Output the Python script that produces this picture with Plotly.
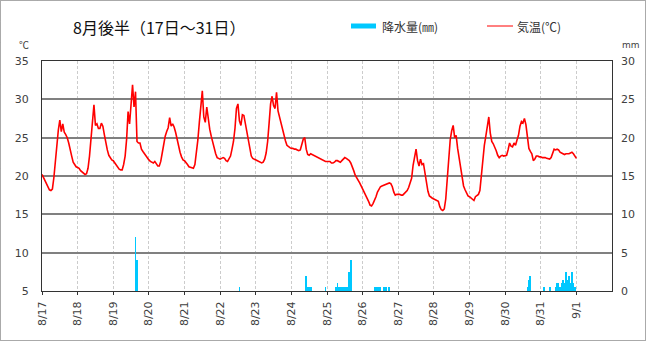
import pandas as pd
import plotly.graph_objects as go

# Hourly air temperature (°C), one list per day, 00:00 .. 23:00
t_0817 = [20.2, 19.8, 19.4, 18.9, 18.4, 18.2, 18.1, 18.3, 19.8, 22.2, 24.4, 26.0, 27.3, 25.8, 26.8, 25.7, 25.4, 25.0, 24.3, 23.6, 22.6, 21.8, 21.4, 21.2]
t_0818 = [21.1, 21.0, 20.7, 20.5, 20.3, 20.2, 20.3, 21.0, 22.6, 24.8, 27.3, 29.3, 26.6, 26.8, 26.2, 26.2, 26.9, 26.5, 25.4, 24.3, 23.4, 22.7, 22.3, 22.1]
t_0819 = [22.0, 21.7, 21.4, 21.1, 20.9, 20.8, 20.8, 21.5, 22.6, 24.8, 28.4, 26.8, 29.9, 31.9, 29.0, 31.0, 24.5, 24.3, 24.3, 23.5, 23.2, 22.9, 22.7, 22.3]
t_0820 = [22.1, 21.9, 21.8, 21.7, 21.9, 21.6, 21.3, 21.3, 21.9, 23.0, 24.2, 25.2, 25.8, 26.3, 27.6, 26.5, 26.8, 26.4, 25.7, 24.7, 23.9, 23.1, 22.5, 22.1]
t_0821 = [22.0, 21.8, 21.5, 21.2, 21.1, 21.1, 21.0, 21.5, 22.8, 24.7, 27.0, 29.2, 31.1, 27.7, 27.0, 29.0, 27.4, 26.1, 25.2, 24.3, 23.6, 22.9, 22.4, 22.3]
t_0822 = [22.2, 22.3, 22.4, 22.3, 22.0, 21.9, 22.2, 22.6, 23.5, 24.5, 26.2, 28.8, 29.4, 27.2, 26.6, 28.0, 27.9, 26.8, 25.5, 24.4, 23.4, 22.6, 22.3, 22.2]
t_0823 = [22.1, 22.0, 21.8, 21.7, 21.7, 21.8, 22.2, 23.0, 24.5, 26.9, 29.4, 30.4, 29.2, 28.8, 30.9, 28.5, 27.7, 26.8, 25.9, 25.1, 24.6, 24.0, 23.8, 23.7]
t_0824 = [23.6, 23.6, 23.5, 23.5, 23.4, 23.3, 23.4, 24.3, 24.8, 25.0, 23.5, 22.8, 22.7, 22.9, 22.8, 22.7, 22.5, 22.5, 22.4, 22.3, 22.1, 22.1, 22.0, 21.9]
t_0825 = [21.9, 21.9, 21.9, 21.7, 21.7, 21.8, 22.0, 22.0, 21.9, 21.8, 22.0, 22.2, 22.4, 22.3, 22.2, 22.0, 21.7, 21.3, 20.7, 20.1, 19.8, 19.4, 19.1, 18.7]
t_0826 = [18.3, 18.0, 17.7, 17.3, 16.7, 16.2, 16.1, 16.4, 16.8, 17.3, 17.9, 18.3, 18.6, 18.7, 18.8, 18.9, 19.0, 19.1, 19.1, 19.0, 18.6, 17.9, 17.5, 17.6]
t_0827 = [17.6, 17.6, 17.5, 17.5, 17.7, 17.9, 18.1, 18.5, 19.0, 19.7, 21.4, 22.3, 23.5, 22.0, 21.3, 22.2, 21.5, 21.6, 20.2, 18.9, 18.0, 17.4, 17.2, 17.1]
t_0828 = [17.0, 16.9, 16.9, 16.7, 16.0, 15.6, 15.5, 15.7, 17.0, 19.8, 22.3, 24.7, 25.9, 26.6, 25.0, 25.3, 23.6, 22.5, 21.2, 19.8, 18.7, 18.2, 17.8, 17.4]
t_0829 = [17.3, 17.1, 16.9, 16.8, 17.3, 17.4, 17.6, 18.1, 20.2, 22.7, 24.0, 25.2, 26.5, 27.7, 25.6, 24.5, 24.2, 23.8, 23.3, 22.7, 22.4, 22.6, 22.7, 22.6]
t_0830 = [22.7, 22.7, 23.4, 24.3, 23.9, 23.8, 24.3, 24.0, 24.7, 25.3, 26.5, 27.1, 26.9, 27.5, 26.7, 24.9, 23.6, 23.2, 22.9, 22.0, 22.2, 22.6, 22.6, 22.5]
t_0831 = [22.5, 22.4, 22.4, 22.4, 22.3, 22.2, 22.2, 22.4, 22.9, 23.5, 23.4, 23.5, 23.4, 23.1, 23.0, 22.9, 22.8, 22.9, 22.9, 22.9, 23.0, 23.1, 22.9, 22.5]
t_0901 = [22.3]

temperature = (t_0817 + t_0818 + t_0819 + t_0820 + t_0821 + t_0822 + t_0823 + t_0824
               + t_0825 + t_0826 + t_0827 + t_0828 + t_0829 + t_0830 + t_0831 + t_0901)
temp_times = pd.date_range("2024-08-17 00:00", periods=len(temperature), freq="h")

# Hourly precipitation (mm), only hours with rain
rain_time = [
    "2024-08-19 15:00", "2024-08-19 16:00",
    "2024-08-22 13:00",
    "2024-08-24 10:00", "2024-08-24 11:00", "2024-08-24 12:00", "2024-08-24 13:00",
    "2024-08-24 23:00",
    "2024-08-25 06:00", "2024-08-25 07:00", "2024-08-25 08:00", "2024-08-25 09:00",
    "2024-08-25 10:00", "2024-08-25 11:00", "2024-08-25 12:00", "2024-08-25 13:00",
    "2024-08-25 14:00", "2024-08-25 15:00", "2024-08-25 16:00",
    "2024-08-26 08:00", "2024-08-26 09:00", "2024-08-26 10:00", "2024-08-26 11:00",
    "2024-08-26 12:00", "2024-08-26 14:00", "2024-08-26 15:00", "2024-08-26 16:00",
    "2024-08-26 18:00",
    "2024-08-30 15:00", "2024-08-30 16:00", "2024-08-30 17:00",
    "2024-08-31 02:00", "2024-08-31 06:00",
    "2024-08-31 10:00", "2024-08-31 11:00", "2024-08-31 12:00", "2024-08-31 13:00",
    "2024-08-31 14:00", "2024-08-31 15:00", "2024-08-31 16:00", "2024-08-31 17:00",
    "2024-08-31 18:00", "2024-08-31 19:00", "2024-08-31 20:00", "2024-08-31 21:00",
    "2024-08-31 22:00", "2024-08-31 23:00",
]
rain_mm = [
    7.0, 4.0,
    0.5,
    2.0, 0.5, 0.5, 0.5,
    0.5,
    0.5, 1.0, 0.5, 0.5,
    0.5, 0.5, 0.5, 0.5,
    0.5, 2.5, 4.0,
    0.5, 0.5, 0.5, 0.5,
    0.5, 0.5, 0.5, 0.5,
    0.5,
    0.5, 1.5, 2.0,
    0.5, 0.5,
    0.5, 1.0, 1.0, 0.5,
    1.0, 1.5, 1.0, 2.5,
    1.5, 2.0, 1.0, 2.5,
    1.0, 0.5,
]

# Axis ticks
day_ticks = pd.date_range("2024-08-17", "2024-09-01", freq="D")
tick_labels = ["8/17", "8/18", "8/19", "8/20", "8/21", "8/22", "8/23", "8/24",
               "8/25", "8/26", "8/27", "8/28", "8/29", "8/30", "8/31", "9/1"]
x_start, x_end = "2024-08-17 00:00", "2024-09-02 00:00"

title_text = "8月後半（17日～31日）"
rain_label = "降水量(㎜)"
temp_label = "気温(℃)"

# Page geometry (pixels)
W, H = 646, 341
L, R, T, B = 42, 34, 61, 50
PW, PH = W - L - R, H - T - B


def px(xp):
    return (xp - L) / PW


def py(yp):
    return (H - B - yp) / PH


JP = "Noto Sans CJK JP"
NUM = "DejaVu Sans"
TICK_COLOR = "#404040"

fig = go.Figure()

fig.add_trace(go.Bar(
    x=pd.to_datetime(rain_time), y=rain_mm, yaxis="y2",
    marker=dict(color="#00C8FF", line=dict(width=0)),
    width=1.9e6, showlegend=False,
))

fig.add_trace(go.Scatter(
    x=temp_times, y=temperature, mode="lines",
    line=dict(color="#FF0000", width=1.6),
    showlegend=False,
))

fig.update_layout(
    width=W, height=H,
    margin=dict(l=L, r=R, t=T, b=B, autoexpand=False),
    paper_bgcolor="white", plot_bgcolor="white",
    bargap=0,
    xaxis=dict(
        type="date", range=[x_start, x_end],
        tickmode="array", tickvals=day_ticks, ticktext=tick_labels,
        tickangle=-90, ticks="outside", ticklen=3, tickcolor="#333",
        ticklabelstandoff=2,
        tickfont=dict(family=NUM, size=11, color=TICK_COLOR),
        showgrid=True, gridcolor="#cccccc", gridwidth=1, griddash="3px,2px",
        showline=True, linecolor="#333", linewidth=1, mirror=True,
        zeroline=False,
    ),
    yaxis=dict(
        range=[5, 35], tick0=5, dtick=5, ticks="",
        ticklabelstandoff=10,
        tickfont=dict(family=NUM, size=11, color=TICK_COLOR),
        showgrid=True, gridcolor="#808080", gridwidth=2,
        showline=True, linecolor="#333", linewidth=1, mirror=True,
        zeroline=False,
    ),
    yaxis2=dict(
        overlaying="y", side="right", range=[0, 30], tick0=0, dtick=5,
        ticks="", ticklabelstandoff=8,
        tickfont=dict(family=NUM, size=11, color=TICK_COLOR),
        showgrid=False, showline=False, zeroline=False,
    ),
    annotations=[
        dict(text=title_text, x=px(71), y=py(27), xref="paper", yref="paper",
             xanchor="left", yanchor="middle", showarrow=False,
             font=dict(family=JP, size=16, color="#111")),
        dict(text="℃", x=px(24), y=py(44), xref="paper", yref="paper",
             xanchor="center", yanchor="middle", showarrow=False,
             font=dict(family=JP, size=10, color=TICK_COLOR)),
        dict(text="mm", x=px(631), y=py(45), xref="paper", yref="paper",
             xanchor="center", yanchor="middle", showarrow=False,
             font=dict(family=NUM, size=9, color=TICK_COLOR)),
        dict(text=rain_label, x=px(380), y=py(27), xref="paper", yref="paper",
             xanchor="left", yanchor="middle", showarrow=False,
             font=dict(family=JP, size=12, color="#333")),
        dict(text=temp_label, x=px(515), y=py(27), xref="paper", yref="paper",
             xanchor="left", yanchor="middle", showarrow=False,
             font=dict(family=JP, size=12, color="#333")),
    ],
    shapes=[
        # outer frame
        dict(type="rect", xref="paper", yref="paper",
             x0=px(0.5), x1=px(645.5), y0=py(340.5), y1=py(0.5),
             line=dict(color="#555", width=1, dash="1px,1px")),
        # legend keys
        dict(type="rect", xref="paper", yref="paper",
             x0=px(351), x1=px(376), y0=py(28.5), y1=py(23.5),
             line=dict(width=0), fillcolor="#00C8FF"),
        dict(type="line", xref="paper", yref="paper",
             x0=px(487), x1=px(513), y0=py(26), y1=py(26),
             line=dict(color="#FF0000", width=1)),
    ],
)

fig.write_html("out.html", config={"displayModeBar": False},
               post_script="document.body.style.margin='0';")
